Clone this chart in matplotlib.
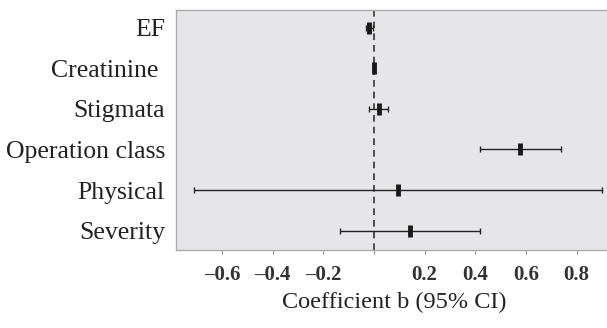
import matplotlib
matplotlib.use("Agg")
import matplotlib.pyplot as plt

labels = ["EF", "Creatinine ", "Stigmata", "Operation class", "Physical", "Severity"]
coef = [-0.019, 0.0, 0.018, 0.575, 0.096, 0.142]
lower = [-0.030, -0.003, -0.018, 0.417, -0.709, -0.135]
upper = [-0.003, 0.003, 0.057, 0.740, 0.901, 0.420]
xticks = [-0.6, -0.4, -0.2, 0.0, 0.2, 0.4, 0.6, 0.8]
xticklabels = ["\u20130.6", "\u20130.4", "\u20130.2", "", "0.2", "0.4", "0.6", "0.8"]

plt.rcParams['font.family'] = ['Liberation Serif', 'DejaVu Serif']

fig = plt.figure(figsize=(6.07, 3.28), dpi=100)
ax = fig.add_axes([176/607, 1-250/328, (612-176)/607, 240/328])
ax.set_facecolor("#e6e6e8")

n = len(labels)
ypos = [n - 1 - i for i in range(n)]
xerr = [[c - l for c, l in zip(coef, lower)], [u - c for c, u in zip(coef, upper)]]
ax.errorbar(coef, ypos, xerr=xerr, fmt='none', ecolor="#222222", elinewidth=1.0,
            capsize=2.5, capthick=1.0, zorder=3)
ax.plot(coef, ypos, linestyle='none', marker='|', markersize=8, mew=3.5,
        color="#1a1a1a", zorder=4)
ax.axvline(0, color="#333333", linestyle=(0, (4, 3)), linewidth=1.2, zorder=2)

ax.set_xlim(-0.782, 0.94)
ax.set_ylim(-0.48, 5.44)
ax.set_yticks(ypos)
ax.set_yticklabels(labels, fontsize=18.5, color="#222222")
ax.tick_params(axis='y', length=0, pad=8)
ax.set_xticks(xticks)
ax.set_xticklabels(xticklabels, fontsize=15, fontweight='bold', color="#333333")
ax.tick_params(axis='x', length=3, color="#999999", pad=8)
ax.set_xlabel("Coefficient b (95% CI)", fontsize=17.5, color="#222222", labelpad=5)

for s in ["left", "top", "bottom"]:
    ax.spines[s].set_color("#aaaaaa")
    ax.spines[s].set_linewidth(1.0)
ax.spines["right"].set_visible(False)

fig.savefig("out.png", dpi=100)
